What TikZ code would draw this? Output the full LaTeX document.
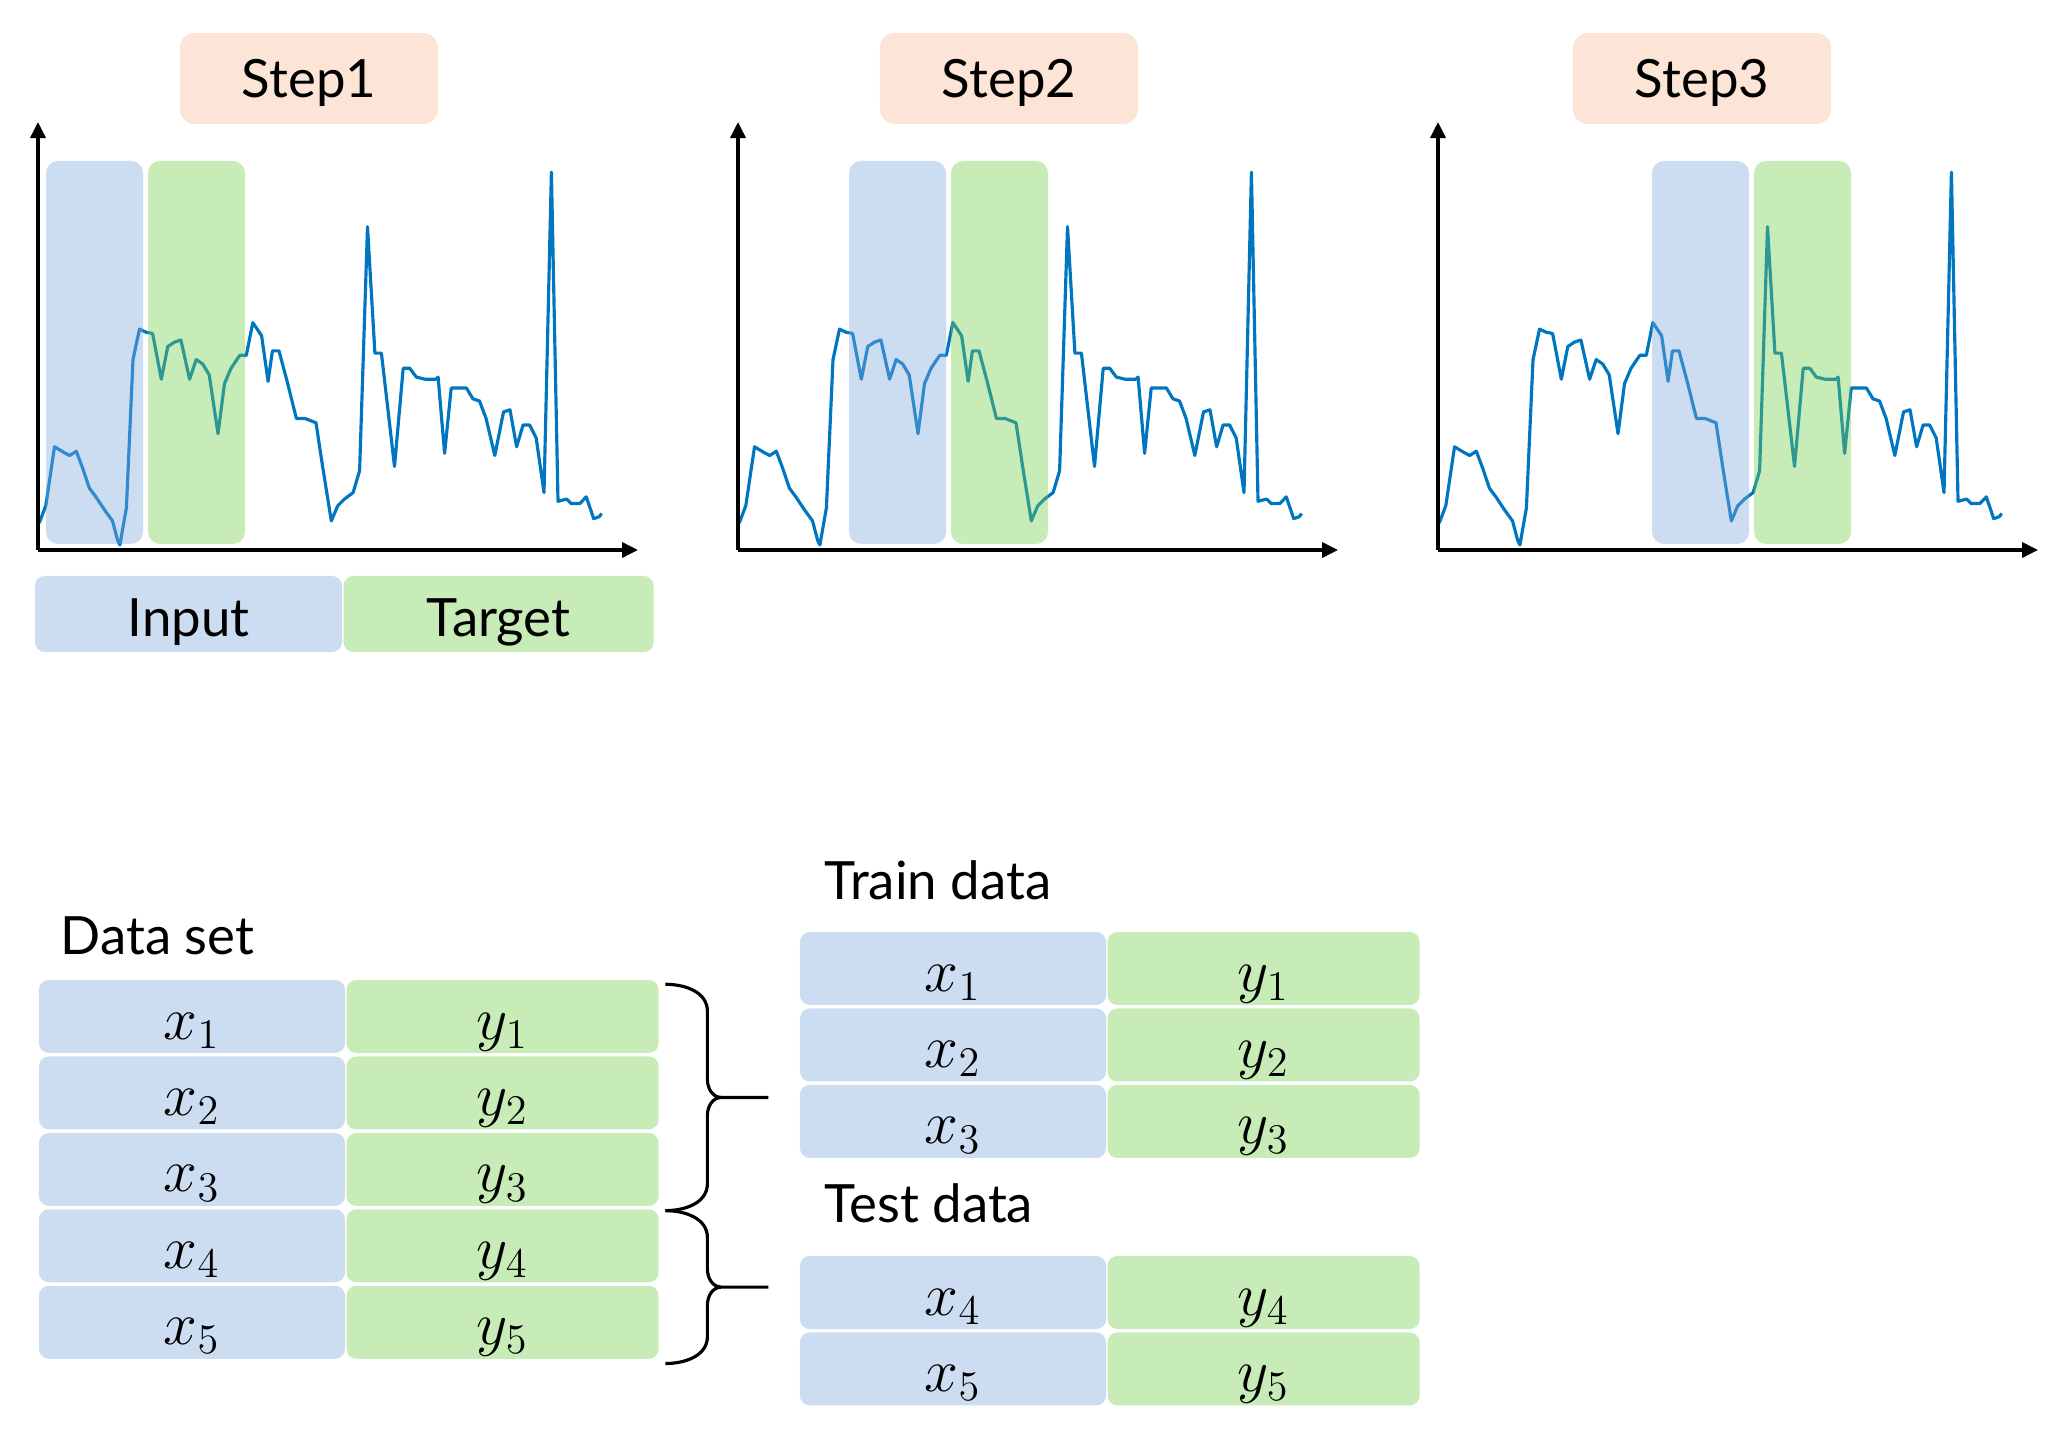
\documentclass[tikz,border=0pt]{standalone}
\usepackage[no-math]{fontspec}
\setmainfont{Lato}
\usetikzlibrary{positioning,arrows.meta,calc}

\definecolor{inblue}{RGB}{204,220,241}
\definecolor{tggreen}{RGB}{199,236,184}
\definecolor{bandblue}{RGB}{127,167,220}
\definecolor{bandgreen}{RGB}{115,207,77}
\definecolor{steppeach}{RGB}{252,228,214}
\definecolor{waveblue}{RGB}{0,118,192}

% the series, in the coordinates of the first chart
\newcommand{\wavepath}{(39.2,523.1) -- (45.8,505.7) -- (54.5,446.8) -- (65.4,453.3) -- (69.7,455.5) -- (76.3,451.2) -- (82.8,468.6) -- (89.4,488.2) -- (95.9,496.9) -- (104.6,510.0) -- (112.5,520.9) -- (117.7,540.5) -- (119.9,544.9) -- (126.4,507.8) -- (133.0,359.6) -- (139.5,329.1) -- (146.0,332.2) -- (152.6,333.5) -- (161.3,379.2) -- (167.8,346.5) -- (174.4,342.2) -- (180.9,340.0) -- (189.6,379.2) -- (196.2,359.6) -- (202.7,364.0) -- (209.2,374.9) -- (218.0,433.7) -- (224.5,383.6) -- (231.0,368.3) -- (239.8,355.3) -- (246.3,355.3) -- (252.8,322.6) -- (261.6,335.7) -- (268.1,381.4) -- (272.4,350.9) -- (279.0,350.9) -- (287.7,383.6) -- (296.4,418.5) -- (305.1,418.5) -- (316.0,422.8) -- (322.6,466.4) -- (331.3,520.9) -- (337.8,505.7) -- (344.4,499.1) -- (353.1,492.6) -- (359.6,470.8) -- (367.5,226.7) -- (374.9,353.1) -- (381.4,353.1) -- (394.5,466.4) -- (403.2,368.3) -- (409.8,368.3) -- (416.3,377.1) -- (425.0,379.2) -- (435.9,379.2) -- (438.1,377.1) -- (444.6,453.3) -- (451.2,388.0) -- (466.4,388.0) -- (473.0,398.9) -- (479.5,401.0) -- (486.1,418.5) -- (494.8,455.5) -- (503.5,411.9) -- (510.0,409.8) -- (516.6,446.8) -- (523.1,425.0) -- (529.6,425.0) -- (536.2,438.1) -- (544.0,492.6) -- (551.4,172.2) -- (558.0,501.3) -- (566.7,499.1) -- (571.0,503.5) -- (579.8,503.5) -- (586.3,496.9) -- (593.7,518.7) -- (599.4,516.6) -- (601.6,513.5)}

% curly brace from #1 down to #2, with its tip line
\newcommand{\splitbrace}[2]{%
  \draw[bracel] let \p1=(#1), \p2=(#2), \p3=($(#1)!0.5!(#2)$) in
    (\p1) to[out=0,in=90] (\x1+0.42cm,\y1-0.27cm)
    -- (\x1+0.42cm,\y3+0.18cm) to[out=-90,in=180] (\x1+0.56cm,\y3)
    to[out=180,in=90] (\x1+0.42cm,\y3-0.18cm)
    -- (\x1+0.42cm,\y2+0.27cm) to[out=-90,in=0] (\p2)
    (\x1+0.56cm,\y3) -- (\x1+1.03cm,\y3);}

\begin{document}
\begin{tikzpicture}[x=0.01cm, y=-0.01cm,
    lbl/.style={inner sep=0pt, text depth=0pt, font=\fontsize{15}{18}\selectfont},
    stepbox/.style={lbl, fill=steppeach, rounded corners=0.15cm, minimum width=2.58cm, minimum height=0.91cm},
    xcell/.style={fill=inblue, rounded corners=0.1cm, inner sep=0pt, minimum width=3.06cm, minimum height=0.73cm,
                  text height=0.45cm, text depth=0pt, font=\fontsize{16.5}{19}\selectfont},
    ycell/.style={xcell, fill=tggreen, minimum width=3.12cm},
    legcell/.style={lbl, minimum height=0.76cm},
    inband/.style={fill=bandblue, fill opacity=0.4, rounded corners=0.12cm},
    tgband/.style={fill=bandgreen, fill opacity=0.4, rounded corners=0.12cm},
    chartaxis/.style={line width=1pt, -{Triangle[length=0.16cm, width=0.15cm]}},
    wave/.style={waveblue, line width=0.9pt, line join=round},
    bracel/.style={line width=0.9pt}]

  \useasboundingbox (0,0) rectangle (2049,1443);

  % the three sliding-window charts
  \foreach \i/\k/\sx in {0/1/309,1/2/309,2/3/302}{
    \begin{scope}[shift={(700*\i,0)}]
      \node[stepbox] (step\k) at (\sx,78.5) {Step\k};
      \coordinate (o\k) at (38,550);
      \draw[wave] \wavepath;
      \fill[inband] ({46+103*\i},161) rectangle ({143+103*\i},544);
      \fill[tgband] ({148+103*\i},161) rectangle ({245+103*\i},544);
      \draw[chartaxis] (o\k) -- ++(0,-428);
      \draw[chartaxis] (o\k) -- ++(600,0);
    \end{scope}
  }

  \node[xcell, legcell, minimum width=3.07cm] (input) at (188.5,614) {Input};
  \node[ycell, legcell, minimum width=3.10cm, right=0pt of input] (target) {Target};

  % data set
  \node[lbl, anchor=base west] (dslbl) at (60,954) {Data set};
  \node[xcell] (dx1) at (192,1016.5) {$x_1$};
  \node[ycell, right=0pt of dx1] (dy1) {$y_1$};
  \node[xcell, below=0.02cm of dx1] (dx2) {$x_2$};
  \node[ycell, right=0pt of dx2] (dy2) {$y_2$};
  \node[xcell, below=0.02cm of dx2] (dx3) {$x_3$};
  \node[ycell, right=0pt of dx3] (dy3) {$y_3$};
  \node[xcell, below=0.02cm of dx3] (dx4) {$x_4$};
  \node[ycell, right=0pt of dx4] (dy4) {$y_4$};
  \node[xcell, below=0.02cm of dx4] (dx5) {$x_5$};
  \node[ycell, right=0pt of dx5] (dy5) {$y_5$};

  % train data
  \node[lbl, anchor=base west] (trlbl) at (824,899) {Train data};
  \node[xcell] (trx1) at (953,968.5) {$x_1$};
  \node[ycell, right=0pt of trx1] (try1) {$y_1$};
  \node[xcell, below=0.02cm of trx1] (trx2) {$x_2$};
  \node[ycell, right=0pt of trx2] (try2) {$y_2$};
  \node[xcell, below=0.02cm of trx2] (trx3) {$x_3$};
  \node[ycell, right=0pt of trx3] (try3) {$y_3$};

  % test data
  \node[lbl, anchor=base west] (telbl) at (824,1222) {Test data};
  \node[xcell] (tex4) at (953,1292.5) {$x_4$};
  \node[ycell, right=0pt of tex4] (tey4) {$y_4$};
  \node[xcell, below=0.02cm of tex4] (tex5) {$x_5$};
  \node[ycell, right=0pt of tex5] (tey5) {$y_5$};

  % braces
  \coordinate (trA) at ($(dy1.north east)+(6,5)$);
  \coordinate (trB) at ($(dy4.north east)+(6,2)$);
  \coordinate (teB) at ($(dy5.south east)+(6,4)$);
  \splitbrace{trA}{trB}
  \splitbrace{trB}{teB}
\end{tikzpicture}
\end{document}
